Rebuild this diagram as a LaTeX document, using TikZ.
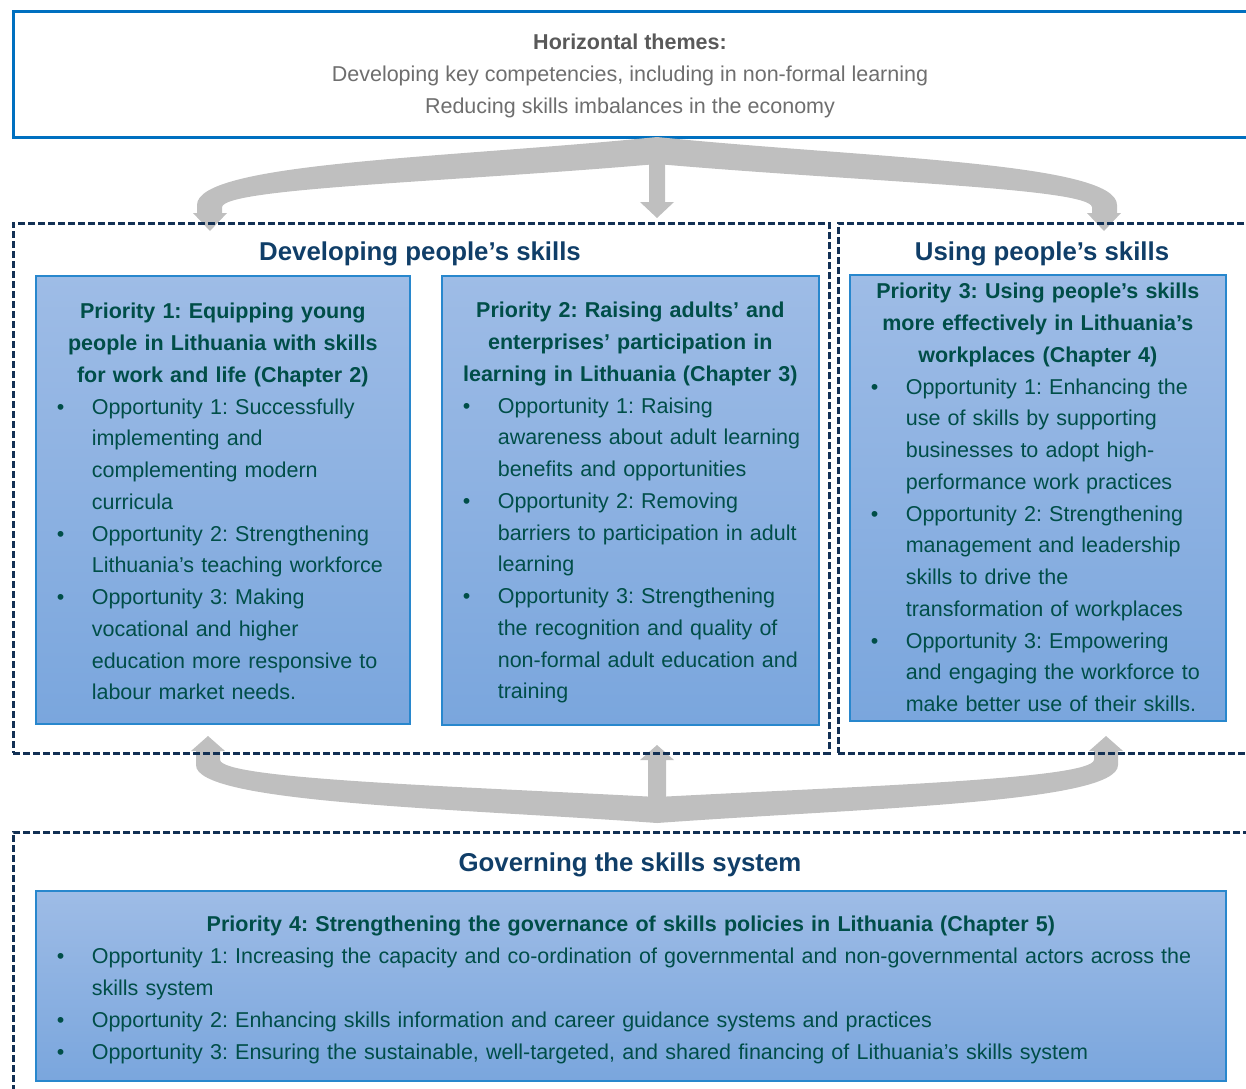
\documentclass[tikz,border=0pt]{standalone}
\usepackage{fontspec}
\setmainfont{Liberation Sans}
\usetikzlibrary{positioning}
\frenchspacing

\definecolor{themeblue}{RGB}{0,112,192}
\definecolor{themedark}{RGB}{89,89,89}
\definecolor{themegray}{RGB}{110,110,110}
\definecolor{groupnavy}{RGB}{18,48,84}
\definecolor{titleblue}{RGB}{16,62,104}
\definecolor{boxtop}{RGB}{158,188,230}
\definecolor{boxbot}{RGB}{122,166,221}
\definecolor{boxline}{RGB}{40,135,205}
\definecolor{oppteal}{RGB}{0,78,72}
\definecolor{arrowgray}{RGB}{191,191,191}

% one bullet line of a priority box
\newcommand{\opp}[1]{\par{\let\\\newline\noindent\hangindent=28pt\hangafter=1\makebox[28pt][l]{\hspace{10.5pt}\textbullet}#1\par}}

\tikzset{
  groupbox/.style={draw=groupnavy, line width=1.4pt, dash pattern=on 3.5pt off 1.5pt, anchor=north west, inner sep=0pt},
  priobox/.style={draw=boxline, line width=0.8pt, top color=boxtop, bottom color=boxbot, anchor=north west, inner sep=0pt},
  priotext/.style={inner sep=0pt, text=oppteal, align=left, font=\fontsize{10.75pt}{15.875pt}\selectfont},
  grouptitle/.style={anchor=base, inner sep=0pt, text=titleblue, font=\fontsize{12.9pt}{15pt}\selectfont\bfseries},
  bracearrow/.style={fill=arrowgray, draw=none},
}

\begin{document}
\begin{tikzpicture}[x=0.5pt, y=-0.5pt]
	\useasboundingbox (0,0) rectangle (1246,1088);
	% horizontal themes
	\node[draw=themeblue, line width=1.5pt, fill=white, anchor=north west, inner sep=0pt, minimum width=619pt, minimum height=63pt] (themes) at (12,10) {};
	\node[anchor=north, inner sep=0pt, align=center, text=themegray, font=\fontsize{10.75pt}{15.875pt}\selectfont] (themestext) at (630,34) {\textcolor{themedark}{\bfseries Horizontal themes:}\\Developing key competencies, including in non-formal learning\\Reducing skills imbalances in the economy};
	% arrows from the themes
	\fill[bracearrow] (657,137) .. controls (450,158) and (197,162) .. (197,205) -- (197,213) -- (193,213) -- (210,231) -- (227,213) -- (222,213) -- (222,207) .. controls (225,188) and (450,182) .. (657,164) -- cycle;
	\fill[bracearrow] (657,137) .. controls (864,158) and (1117,162) .. (1117,205) -- (1117,213) -- (1121,213) -- (1104,231) -- (1087,213) -- (1092,213) -- (1092,207) .. controls (1089,188) and (864,182) .. (657,164) -- cycle;
	\fill[bracearrow] (649,140) -- (649,202) -- (640,202) -- (657,218) -- (674,202) -- (665,202) -- (665,140) -- cycle;
	% arrows from the governance
	\fill[bracearrow] (657,823) .. controls (450,808) and (196,803) .. (196,765) -- (196,751) -- (191,751) -- (208,736) -- (225,751) -- (220,751) -- (220,760) .. controls (223,779) and (450,786) .. (657,797) -- cycle;
	\fill[bracearrow] (657,823) .. controls (864,808) and (1118,803) .. (1118,765) -- (1118,751) -- (1123,751) -- (1106,736) -- (1089,751) -- (1094,751) -- (1094,760) .. controls (1091,779) and (864,786) .. (657,797) -- cycle;
	\fill[bracearrow] (648,805) -- (648,760) -- (640,760) -- (657,745) -- (674,760) -- (666,760) -- (666,805) -- cycle;
	% dashed groups
	\node[groupbox, minimum width=408pt, minimum height=265pt] (dev) at (12,222) {};
	\node[groupbox, minimum width=206.5pt, minimum height=265pt] (use) at (837,222) {};
	\node[groupbox, minimum width=619pt, minimum height=130.5pt] (gov) at (12,831) {};
	\node[grouptitle] (devtitle) at (420,260) {Developing people’s skills};
	\node[grouptitle] (usetitle) at (1042,260) {Using people’s skills};
	\node[grouptitle] (govtitle) at (630,871) {Governing the skills system};
	% priority boxes
	\node[priobox, minimum width=187pt, minimum height=224pt] (p1) at (35,275) {};
	\node[priobox, minimum width=188.5pt, minimum height=224.5pt] (p2) at (441,275) {};
	\node[priobox, minimum width=188pt, minimum height=223pt] (p3) at (849,274) {};
	\node[priobox, minimum width=595pt, minimum height=95pt] (p4) at (35,890) {};
	\node[priotext, text width=187pt, below=14pt of p1.north] (p1text) {{\bfseries\centering Priority 1: Equipping young\\people in Lithuania with skills\\for work and life (Chapter 2)\par}
		\opp{Opportunity 1: Successfully\\implementing and\\complementing modern\\curricula}
		\opp{Opportunity 2: Strengthening\\Lithuania’s teaching workforce}
		\opp{Opportunity 3: Making\\vocational and higher\\education more responsive to\\labour market needs.}};
	\node[priotext, text width=188.5pt, below=13.5pt of p2.north] (p2text) {{\bfseries\centering Priority 2: Raising adults’ and\\enterprises’ participation in\\learning in Lithuania (Chapter 3)\par}
		\opp{Opportunity 1: Raising\\awareness about adult learning\\benefits and opportunities}
		\opp{Opportunity 2: Removing\\barriers to participation in adult\\learning}
		\opp{Opportunity 3: Strengthening\\the recognition and quality of\\non-formal adult education and\\training}};
	\node[priotext, text width=188pt, below=4.5pt of p3.north] (p3text) {{\bfseries\centering Priority 3: Using people’s skills\\more effectively in Lithuania’s\\workplaces (Chapter 4)\par}
		\opp{Opportunity 1: Enhancing the\\use of skills by supporting\\businesses to adopt high-\\performance work practices}
		\opp{Opportunity 2: Strengthening\\management and leadership\\skills to drive the\\transformation of workplaces}
		\opp{Opportunity 3: Empowering\\and engaging the workforce to\\make better use of their skills.}};
	\node[priotext, text width=595pt, below=13pt of p4.north] (p4text) {{\bfseries\centering Priority 4: Strengthening the governance of skills policies in Lithuania (Chapter 5)\par}
		\opp{Opportunity 1: Increasing the capacity and co-ordination of governmental and non-governmental actors across the\\skills system}
		\opp{Opportunity 2: Enhancing skills information and career guidance systems and practices}
		\opp{Opportunity 3: Ensuring the sustainable, well-targeted, and shared financing of Lithuania’s skills system}};
\end{tikzpicture}
\end{document}
